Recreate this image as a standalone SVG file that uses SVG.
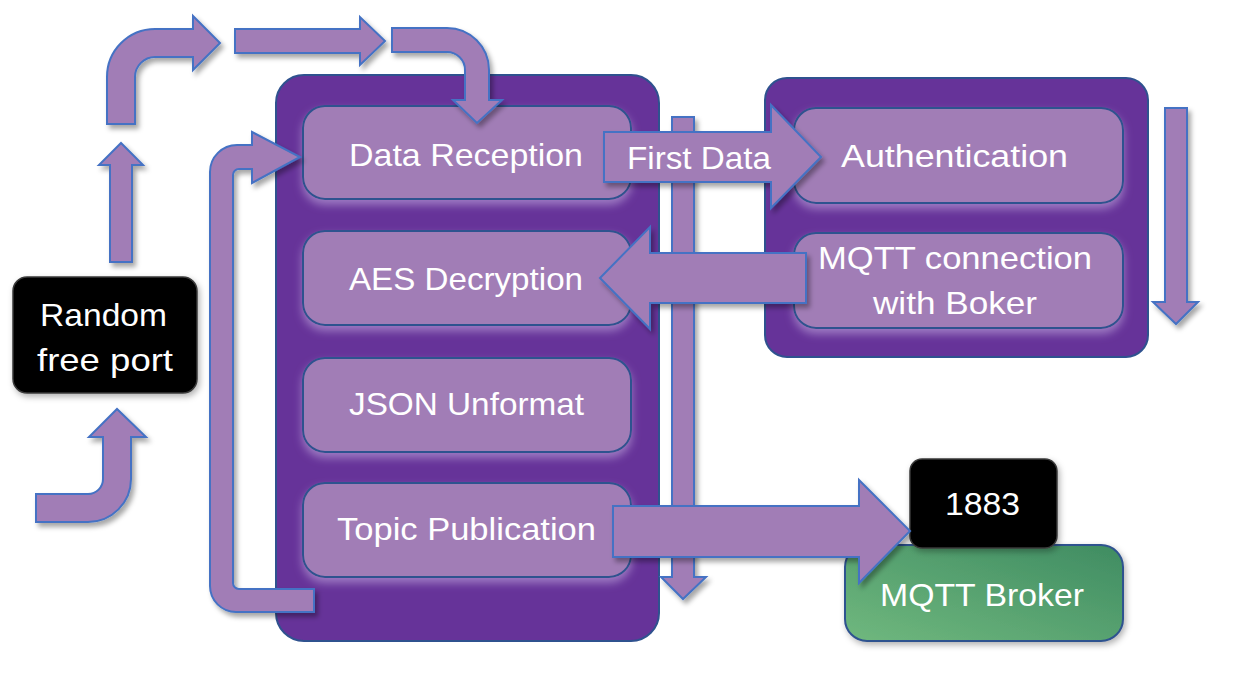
<svg xmlns="http://www.w3.org/2000/svg" width="1246" height="674" viewBox="0 0 1246 674">
  <defs>
    <filter id="arrowShadow" x="-20%" y="-20%" width="140%" height="140%">
      <feDropShadow dx="3" dy="4" stdDeviation="2.5" flood-color="#000" flood-opacity="0.35"/>
    </filter>
    <filter id="boxGlow" x="-10%" y="-20%" width="120%" height="150%">
      <feDropShadow dx="0" dy="5" stdDeviation="4" flood-color="#c9b3e3" flood-opacity="0.55"/>
    </filter>
    <filter id="soft" x="-10%" y="-10%" width="120%" height="130%">
      <feDropShadow dx="2" dy="3" stdDeviation="3" flood-color="#000" flood-opacity="0.3"/>
    </filter>
    <linearGradient id="brokerFill" x1="0" y1="1" x2="1" y2="0">
      <stop offset="0" stop-color="#70b87e"/>
      <stop offset="1" stop-color="#3f8c62"/>
    </linearGradient>
  </defs>
  <style>
    .container { fill: #663399; stroke: #2f528f; stroke-width: 2; }
    .step { fill: #a17db6; stroke: #2f528f; stroke-width: 2; filter: url(#boxGlow); }
    .port { fill: #000; stroke: #3a3a3a; stroke-width: 1.5; filter: url(#soft); }
    .broker { fill: url(#brokerFill); stroke: #2f528f; stroke-width: 2; filter: url(#soft); }
    .arrow { fill: #a17db6; stroke: #4472c4; stroke-width: 2; stroke-linejoin: miter; filter: url(#arrowShadow); }
    .label { font-family: "Liberation Sans", Arial, sans-serif; font-size: 32px; fill: #fff; }
  </style>

  <!-- processing containers -->
  <g id="receiver">
    <rect class="container" x="276" y="75" width="383" height="566" rx="28"/>
  </g>
  <g id="session">
    <rect class="container" x="765" y="78" width="383" height="279" rx="22"/>
  </g>

  <!-- receiver steps -->
  <g id="data-reception">
    <rect class="step" x="303" y="106" width="328" height="93" rx="22"/>
    <text class="label" x="349" y="166" textLength="234" lengthAdjust="spacingAndGlyphs">Data Reception</text>
  </g>
  <g id="aes-decryption">
    <rect class="step" x="303" y="231" width="328" height="94" rx="22"/>
    <text class="label" x="349" y="290" textLength="234" lengthAdjust="spacingAndGlyphs">AES Decryption</text>
  </g>
  <g id="json-unformat">
    <rect class="step" x="303" y="358" width="328" height="94" rx="22"/>
    <text class="label" x="349" y="415" textLength="235" lengthAdjust="spacingAndGlyphs">JSON Unformat</text>
  </g>
  <g id="topic-publication">
    <rect class="step" x="303" y="483" width="328" height="94" rx="22"/>
    <text class="label" x="337" y="540" textLength="259" lengthAdjust="spacingAndGlyphs">Topic Publication</text>
  </g>

  <!-- session steps -->
  <g id="authentication">
    <rect class="step" x="794" y="108" width="329" height="95" rx="22"/>
    <text class="label" x="841" y="167" textLength="227" lengthAdjust="spacingAndGlyphs">Authentication</text>
  </g>
  <g id="mqtt-connection">
    <rect class="step" x="794" y="233" width="329" height="95" rx="22"/>
    <text class="label" x="818" y="269" textLength="274" lengthAdjust="spacingAndGlyphs">MQTT connection</text>
    <text class="label" x="873" y="314" textLength="164" lengthAdjust="spacingAndGlyphs">with Boker</text>
  </g>

  <!-- port and broker -->
  <g id="random-port">
    <rect class="port" x="13" y="277" width="184" height="116" rx="14"/>
    <text class="label" x="40" y="326" textLength="127" lengthAdjust="spacingAndGlyphs">Random</text>
    <text class="label" x="37" y="371" textLength="136" lengthAdjust="spacingAndGlyphs">free port</text>
  </g>
  <g id="mqtt-broker">
    <rect class="broker" x="845" y="545" width="278" height="96" rx="22"/>
    <text class="label" x="880" y="606" textLength="204" lengthAdjust="spacingAndGlyphs">MQTT Broker</text>
  </g>
  <g id="broker-port">
    <rect class="port" x="910" y="459" width="147" height="89" rx="12"/>
    <text class="label" x="945" y="515" textLength="75" lengthAdjust="spacingAndGlyphs">1883</text>
  </g>

  <!-- connectors -->
  <g id="connectors">
    <!-- down the receiver pipeline -->
    <path class="arrow" d="M672,117 L694,117 L694,577 L706,577 L683,599 L661,577 L672,577 Z"/>
    <!-- down the session pipeline -->
    <path class="arrow" d="M1165,108 L1187,108 L1187,302 L1198,302 L1176,324 L1153,302 L1165,302 Z"/>
    <!-- port discovery path -->
    <path class="arrow" d="M36,494 L88,494 A15,15 0 0 0 103,479 L103,437 L89,437 L117,409 L146,437 L131,437 L131,479 A43,43 0 0 1 88,522 L36,522 Z"/>
    <path class="arrow" d="M110,262 L110,165 L99,165 L121,143 L143,165 L132,165 L132,262 Z"/>
    <path class="arrow" d="M107,124 L107,77 A48,48 0 0 1 155,29 L193,29 L193,16 L220,43 L193,70 L193,57 L155,57 A20,20 0 0 0 135,77 L135,124 Z"/>
    <path class="arrow" d="M235,29 L360,29 L360,17 L385,41 L360,65 L360,53 L235,53 Z"/>
    <path class="arrow" d="M392,28 L447,28 A42,42 0 0 1 489,70 L489,100 L502,100 L477,123 L453,100 L465,100 L465,70 A18,18 0 0 0 447,52 L392,52 Z"/>
    <!-- loop back to reception -->
    <path class="arrow" d="M314,612 L236,612 A26,26 0 0 1 210,586 L210,172 A27,27 0 0 1 237,145 L252,145 L252,132 L300,157 L252,183 L252,169 L239,169 A6,6 0 0 0 233,175 L233,583 A6,6 0 0 0 239,589 L314,589 Z"/>
    <!-- first data to authentication -->
    <g id="first-data">
      <path class="arrow" d="M604,132 L771,132 L771,105 L821,157 L771,208 L771,182 L604,182 Z"/>
      <text class="label" x="627" y="169" textLength="144" lengthAdjust="spacingAndGlyphs">First Data</text>
    </g>
    <!-- session back to decryption -->
    <path class="arrow" d="M806,253 L650,253 L650,227 L600,278 L650,329 L650,303 L806,303 Z"/>
    <!-- publish to broker -->
    <path class="arrow" d="M613,506 L859,506 L859,480 L910,531 L859,583 L859,557 L613,557 Z"/>
  </g>
</svg>
